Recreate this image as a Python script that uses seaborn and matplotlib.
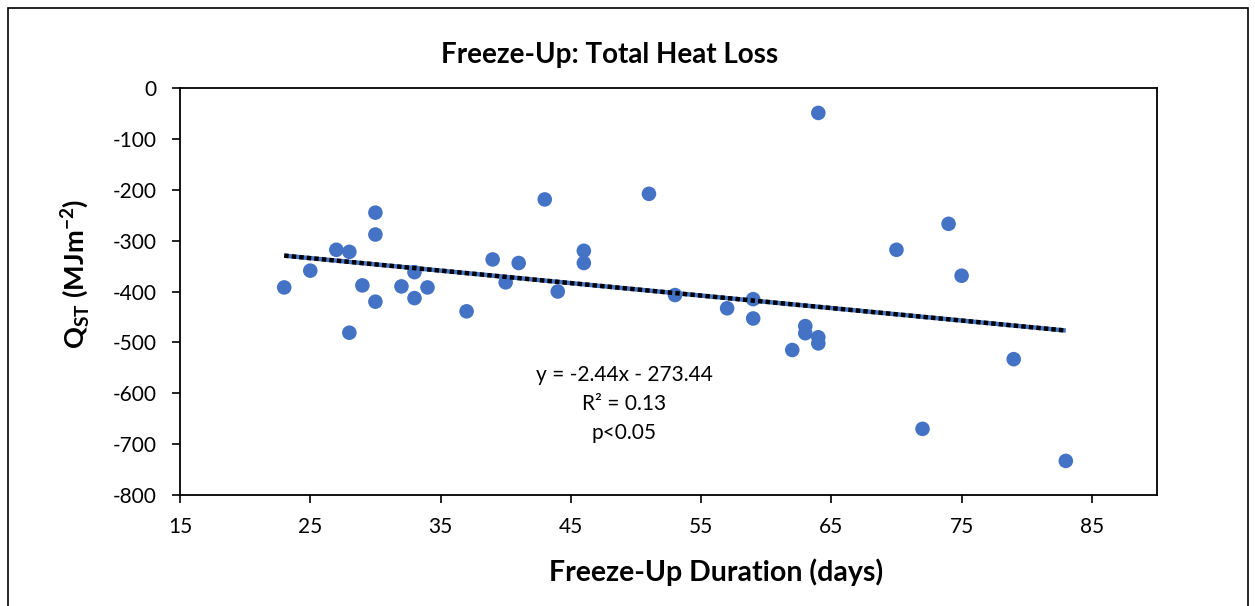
import matplotlib
matplotlib.use("Agg")
import matplotlib.pyplot as plt
import numpy as np
import pandas as pd
import seaborn as sns
from matplotlib.patches import Rectangle

# Freeze-up duration (days) and total heat loss Q_ST (MJ m^-2)
duration = [23, 25, 27, 28, 28, 29, 30, 30, 30, 32, 33, 33, 34, 37, 39, 40, 41,
            43, 44, 46, 46, 51, 53, 57, 59, 59, 62, 63, 63, 64, 64, 64, 70, 72,
            74, 75, 79, 83]
heat_loss = [-392, -359, -318, -322, -481, -388, -245, -288, -420, -390, -362,
             -413, -392, -439, -337, -382, -344, -219, -400, -320, -344, -208,
             -407, -433, -415, -453, -515, -468, -482, -49, -490, -502, -318,
             -670, -267, -369, -533, -733]
x_ticks = [15, 25, 35, 45, 55, 65, 75, 85]
y_ticks = [0, -100, -200, -300, -400, -500, -600, -700, -800]
fit_text = ["y = -2.44x - 273.44", "R\u00b2 = 0.13", "p<0.05"]

df = pd.DataFrame({"duration": duration, "heat_loss": heat_loss})

sns.set_theme(style="white")
plt.rcParams["font.family"] = ["Lato", "DejaVu Sans"]
plt.rcParams["axes.unicode_minus"] = False
plt.rcParams["mathtext.fontset"] = "custom"
plt.rcParams["mathtext.bf"] = "Lato:bold"
plt.rcParams["mathtext.rm"] = "Lato"

W, H = 1255, 606
fig = plt.figure(figsize=(W / 100, H / 100), dpi=100)
fig.patch.set_facecolor("white")
# outer chart border
fig.patches.append(Rectangle((8 / W, -0.01), (1248 - 8) / W, (H - 8) / H + 0.01,
                             transform=fig.transFigure, fill=False,
                             edgecolor="black", linewidth=1.2))

ax = fig.add_axes([180 / W, (H - 495) / H, 977 / W, 407 / H])

blue = "#4472C4"
sns.scatterplot(data=df, x="duration", y="heat_loss", ax=ax, color=blue,
                s=110, edgecolor="none", zorder=3)
# linear trendline: blue base with black dots on top
sns.regplot(data=df, x="duration", y="heat_loss", ax=ax, scatter=False,
            ci=None, line_kws={"color": blue, "linewidth": 3.2, "zorder": 4,
                               "solid_capstyle": "butt"})
sns.regplot(data=df, x="duration", y="heat_loss", ax=ax, scatter=False,
            ci=None, line_kws={"color": "black", "linewidth": 3.2, "zorder": 5,
                               "dashes": (1.0, 0.7), "dash_capstyle": "butt"})

ax.set_xlim(15, 90)
ax.set_ylim(-800, 0)
ax.set_xticks(x_ticks)
ax.set_yticks(y_ticks)
ax.tick_params(axis="both", which="major", direction="out", length=6,
               width=1.2, color="black", labelsize=15, labelcolor="black",
               bottom=True, left=True)
ax.tick_params(axis="x", pad=10)
ax.tick_params(axis="y", pad=11)
for sp in ax.spines.values():
    sp.set_color("black")
    sp.set_linewidth(1.3)

ax.set_xlabel("")
ax.set_ylabel("")
fig.text(716 / W, 1 - 572 / H, "Freeze-Up Duration (days)", ha="center",
         va="center", fontsize=20.5, fontweight="bold", color="black")
fig.text(75 / W, 1 - 274 / H, r"Q$_{\mathbf{ST}}$ (MJm$^{\mathbf{-2}}$)",
         ha="center", va="center", rotation=90, fontsize=19.5,
         fontweight="bold", color="black")

fig.text(610 / W, 1 - 55 / H, "Freeze-Up: Total Heat Loss", ha="center",
         va="center", fontsize=20, fontweight="bold", color="black")

for i, line in enumerate(fit_text):
    fig.text(624 / W, 1 - (375 + 29 * i) / H, line, ha="center", va="center",
             fontsize=15, color="black")

fig.savefig("out.png", dpi=100, facecolor="white")
